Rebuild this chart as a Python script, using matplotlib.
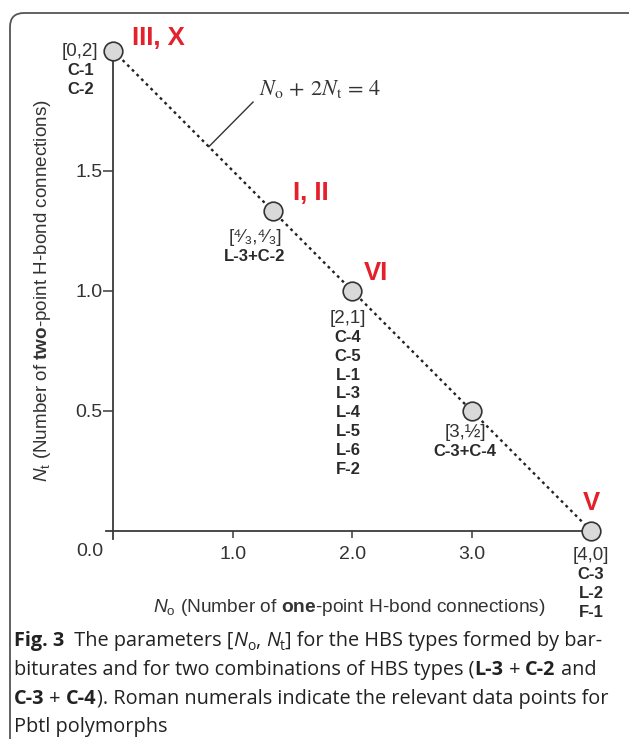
import matplotlib
matplotlib.use("Agg")
import matplotlib.pyplot as plt
import matplotlib.patches as mpatches
from matplotlib.transforms import IdentityTransform

# ---------------- data ----------------
n_one = [0, 4/3, 2, 3, 4]          # N_o
n_two = [2, 4/3, 1, 0.5, 0]        # N_t
coord_labels = ["[0,2]", "[⁴⁄₃,⁴⁄₃]", "[2,1]", "[3,½]", "[4,0]"]
type_labels = [["C-1", "C-2"],
               ["L-3+C-2"],
               ["C-4", "C-5", "L-1", "L-3", "L-4", "L-5", "L-6", "F-2"],
               ["C-3+C-4"],
               ["C-3", "L-2", "F-1"]]
polymorph_labels = ["III, X", "I, II", "VI", "", "V"]
x_ticks = [1.0, 2.0, 3.0]
y_ticks = [0.5, 1.0, 1.5]

# ---------------- style ----------------
W, H = 629, 739
plt.rcParams['font.family'] = ['Liberation Sans', 'DejaVu Sans']
plt.rcParams['mathtext.fontset'] = 'custom'
plt.rcParams['mathtext.rm'] = 'Liberation Sans'
plt.rcParams['mathtext.it'] = 'Liberation Sans:italic'
plt.rcParams['mathtext.bf'] = 'Liberation Sans:bold'

TXT = '#333333'
RED = '#e4202a'
AX = '#3a3a3a'

fig = plt.figure(figsize=(W/100, H/100), dpi=100)
renderer = fig.canvas.get_renderer()

# border frame (rounded, cut off at right/bottom)
frame = mpatches.FancyBboxPatch((10, -30), 700, H - 13 + 30,
                                boxstyle="round,pad=0,rounding_size=14",
                                transform=IdentityTransform(),
                                facecolor='none', edgecolor='#555555', lw=1.3)
fig.add_artist(frame)

x0p, x1p = 113.3, 591.0
y0p, y1p = 530.7, 50.7
ax = fig.add_axes([x0p/W, 1 - y0p/H, (x1p - x0p)/W, (y0p - y1p)/H])
ax.set_xlim(0, 4)
ax.set_ylim(0, 2)
ax.patch.set_visible(False)
for s in ['top', 'right']:
    ax.spines[s].set_visible(False)
ax.spines['left'].set_bounds(-0.035, 2.0)
ax.spines['bottom'].set_bounds(-0.065, 4.0)
for s in ['left', 'bottom']:
    ax.spines[s].set_color(AX)
    ax.spines[s].set_linewidth(1.3)

ax.set_xticks(x_ticks)
ax.set_xticklabels([f"{v:.1f}" for v in x_ticks])
ax.set_yticks(y_ticks)
ax.set_yticklabels([f"{v:.1f}" for v in y_ticks])
ax.tick_params(axis='x', direction='out', length=5, width=1.1, pad=6,
               labelsize=14, labelcolor=TXT, color=AX)
ax.tick_params(axis='y', direction='out', length=7, width=1.1, pad=1,
               labelsize=14, labelcolor=TXT, color=AX)
fig.text(90/W, 1 - 552/H, "0.0", ha='center', va='center', fontsize=14, color=TXT)

# constraint line and points
ax.plot(n_one, n_two, ls=(0, (1.2, 1.6)), lw=1.7, color='#222222', zorder=2, clip_on=False)
ax.scatter(n_one, n_two, s=180, facecolor='#d9d9d9', edgecolor='#333333',
           linewidth=1.2, zorder=3, clip_on=False)

# equation annotation
ax.plot([0.80, 1.17], [1.60, 1.786], color='#333333', lw=1.0)
ax.text(1.222, 1.815, r"$N_\mathrm{o}\,+\,2N_\mathrm{t}\,=\,4$", fontsize=16,
        color=TXT, va='baseline', ha='left', math_fontfamily='stix')

# point labels (offsets in pixels)
coord_off = [(-33, -1), (-17.5, -27), (-4, -28), (-6.5, -22), (0, -25)]
poly_off = [(19, 13), (20.5, 18), (12, 18), (0, 0), (0, 28)]
poly_ha = ['left', 'left', 'left', 'left', 'center']
step = 18.8
for i in range(len(n_one)):
    dx, dy = coord_off[i]
    ax.annotate(coord_labels[i], (n_one[i], n_two[i]), xytext=(dx, dy),
                textcoords='offset pixels', ha='center', va='center',
                fontsize=13.5, color=TXT, annotation_clip=False)
    for k, lab in enumerate(type_labels[i]):
        ax.annotate(lab, (n_one[i], n_two[i]), xytext=(dx, dy - step*(k+1)),
                    textcoords='offset pixels', ha='center', va='center',
                    fontsize=12, fontweight='bold', color='#2a2a2a',
                    annotation_clip=False)
    if polymorph_labels[i]:
        px, py = poly_off[i]
        ax.annotate(polymorph_labels[i], (n_one[i], n_two[i]), xytext=(px, py),
                    textcoords='offset pixels', ha=poly_ha[i], va='center',
                    fontsize=18.5, fontweight='bold', color=RED,
                    annotation_clip=False)

# axis labels
fig.text(349/W, 1 - 608/H,
         r"$N_\mathrm{o}$ (Number of $\mathbf{one}$-point H-bond connections)",
         ha='center', va='center', fontsize=13.8, color=TXT)
fig.text(43/W, 1 - 291/H,
         r"$N_\mathrm{t}$ (Number of $\mathbf{two}$-point H-bond connections)",
         ha='center', va='center', fontsize=13.6, color=TXT, rotation=90)

# caption drawn in runs
CAP_FAMILY = ['Open Sans', 'DejaVu Sans']
CAP_SIZE = 14.3


def draw_runs(x_px, y_px, runs):
    x = x_px
    for text, kw in runs:
        size = CAP_SIZE * kw.get('scale', 1.0)
        dy = kw.get('dy', 0.0)
        t = fig.text(x/W, 1 - (y_px + dy)/H, text, fontsize=size,
                     family=CAP_FAMILY, fontweight=kw.get('weight', 'normal'),
                     fontstyle=kw.get('style', 'normal'), color='#222222',
                     va='baseline', ha='left')
        x += t.get_window_extent(renderer).width


R = {}
B = {'weight': 'bold'}
I = {'style': 'italic'}
S = {'scale': 0.7, 'dy': 3.5}
lines = [
    [("Fig. 3", B), ("  The parameters [", R), ("N", I), ("o", S), (", ", R),
     ("N", I), ("t", S), ("] for the HBS types formed by bar-", R)],
    [("biturates and for two combinations of HBS types (", R), ("L-3", B),
     (" + ", R), ("C-2", B), (" and", R)],
    [("C-3", B), (" + ", R), ("C-4", B),
     ("). Roman numerals indicate the relevant data points for", R)],
    [("Pbtl polymorphs", R)],
]
base_y = [646, 675, 704, 732]
for ln, yb in zip(lines, base_y):
    draw_runs(14, yb, ln)

fig.savefig("out.png", dpi=100)
